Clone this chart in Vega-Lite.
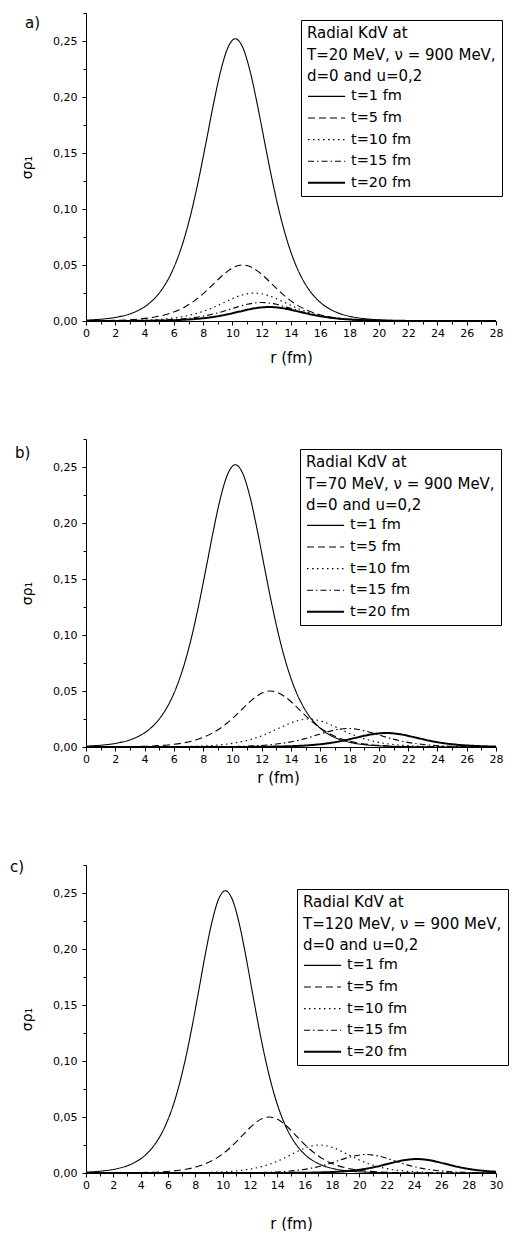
{
  "$schema": "https://vega.github.io/schema/vega-lite/v6.json",
  "padding": {"left": 10, "top": 7, "right": 0, "bottom": 0},
  "background": "white",
  "config": {
    "view": {"stroke": null},
    "font": "DejaVu Sans",
    "title": {"font": "DejaVu Sans", "fontSize": 15, "fontWeight": "normal", "color": "black", "anchor": "start", "frame": "group", "baseline": "middle", "offset": 4},
    "axis": {
      "grid": false, "domainColor": "black", "domainWidth": 1, "tickColor": "black", "tickWidth": 1,
      "labelColor": "black", "labelFont": "DejaVu Sans", "labelFontSize": 11, "labelOverlap": false, "labelFlush": false,
      "titleColor": "black", "titleFont": "DejaVu Sans", "titleFontWeight": "normal"
    },
    "axisX": {"labelPadding": 2, "titleFontSize": 15},
    "axisY": {"labelPadding": 5, "titleFontSize": 14, "titlePadding": 18},
    "legend": {
      "orient": "none", "titleFont": "DejaVu Sans", "titleFontSize": 15, "titleFontWeight": "normal", "titleColor": "black",
      "titleLineHeight": 21.7, "titlePadding": 4, "labelFont": "DejaVu Sans", "labelFontSize": 14.5, "labelColor": "black",
      "symbolType": "M-1,0H4.3", "symbolSize": 196, "symbolStrokeColor": "black", "labelOffset": 28, "rowPadding": 6.6,
      "padding": 6, "strokeColor": "black", "fillColor": "white", "labelLimit": 0, "titleLimit": 0
    }
  },
  "data": {"values": [
    {"p":"a","s":1,"r":0,"v":0.00078},{"p":"a","s":1,"r":1.2,"v":0.00181},{"p":"a","s":1,"r":2.2,"v":0.00365},{"p":"a","s":1,"r":3.2,"v":0.00731},{"p":"a","s":1,"r":4.2,"v":0.01452},{"p":"a","s":1,"r":4.7,"v":0.0204},{"p":"a","s":1,"r":5.2,"v":0.0285},{"p":"a","s":1,"r":5.7,"v":0.0394},{"p":"a","s":1,"r":6.2,"v":0.0541},{"p":"a","s":1,"r":6.7,"v":0.0733},{"p":"a","s":1,"r":7.2,"v":0.0976},{"p":"a","s":1,"r":7.7,"v":0.1268},{"p":"a","s":1,"r":8.2,"v":0.1596},{"p":"a","s":1,"r":8.7,"v":0.1933},{"p":"a","s":1,"r":9.2,"v":0.2233},{"p":"a","s":1,"r":9.7,"v":0.2444},{"p":"a","s":1,"r":10.2,"v":0.252},{"p":"a","s":1,"r":10.7,"v":0.2444},{"p":"a","s":1,"r":11.2,"v":0.2233},{"p":"a","s":1,"r":11.7,"v":0.1933},{"p":"a","s":1,"r":12.2,"v":0.1596},{"p":"a","s":1,"r":12.7,"v":0.1268},{"p":"a","s":1,"r":13.2,"v":0.0976},{"p":"a","s":1,"r":13.7,"v":0.0733},{"p":"a","s":1,"r":14.2,"v":0.0541},{"p":"a","s":1,"r":14.7,"v":0.0394},{"p":"a","s":1,"r":15.2,"v":0.0285},{"p":"a","s":1,"r":15.7,"v":0.0204},{"p":"a","s":1,"r":16.2,"v":0.01452},{"p":"a","s":1,"r":17.2,"v":0.00731},{"p":"a","s":1,"r":18.2,"v":0.00365},{"p":"a","s":1,"r":19.2,"v":0.00181},{"p":"a","s":1,"r":20.2,"v":0.0009},{"p":"a","s":1,"r":22.2,"v":0.00022},{"p":"a","s":1,"r":24.2,"v":0.00005},{"p":"a","s":1,"r":28,"v":0},
    {"p":"b","s":1,"r":0,"v":0.00078},{"p":"b","s":1,"r":1.2,"v":0.00181},{"p":"b","s":1,"r":2.2,"v":0.00365},{"p":"b","s":1,"r":3.2,"v":0.00731},{"p":"b","s":1,"r":4.2,"v":0.01452},{"p":"b","s":1,"r":4.7,"v":0.0204},{"p":"b","s":1,"r":5.2,"v":0.0285},{"p":"b","s":1,"r":5.7,"v":0.0394},{"p":"b","s":1,"r":6.2,"v":0.0541},{"p":"b","s":1,"r":6.7,"v":0.0733},{"p":"b","s":1,"r":7.2,"v":0.0976},{"p":"b","s":1,"r":7.7,"v":0.1268},{"p":"b","s":1,"r":8.2,"v":0.1596},{"p":"b","s":1,"r":8.7,"v":0.1933},{"p":"b","s":1,"r":9.2,"v":0.2233},{"p":"b","s":1,"r":9.7,"v":0.2444},{"p":"b","s":1,"r":10.2,"v":0.252},{"p":"b","s":1,"r":10.7,"v":0.2444},{"p":"b","s":1,"r":11.2,"v":0.2233},{"p":"b","s":1,"r":11.7,"v":0.1933},{"p":"b","s":1,"r":12.2,"v":0.1596},{"p":"b","s":1,"r":12.7,"v":0.1268},{"p":"b","s":1,"r":13.2,"v":0.0976},{"p":"b","s":1,"r":13.7,"v":0.0733},{"p":"b","s":1,"r":14.2,"v":0.0541},{"p":"b","s":1,"r":14.7,"v":0.0394},{"p":"b","s":1,"r":15.2,"v":0.0285},{"p":"b","s":1,"r":15.7,"v":0.0204},{"p":"b","s":1,"r":16.2,"v":0.01452},{"p":"b","s":1,"r":17.2,"v":0.00731},{"p":"b","s":1,"r":18.2,"v":0.00365},{"p":"b","s":1,"r":19.2,"v":0.00181},{"p":"b","s":1,"r":20.2,"v":0.0009},{"p":"b","s":1,"r":22.2,"v":0.00022},{"p":"b","s":1,"r":24.2,"v":0.00005},{"p":"b","s":1,"r":28,"v":0},
    {"p":"c","s":1,"r":0,"v":0.00078},{"p":"c","s":1,"r":1.2,"v":0.00181},{"p":"c","s":1,"r":2.2,"v":0.00365},{"p":"c","s":1,"r":3.2,"v":0.00731},{"p":"c","s":1,"r":4.2,"v":0.01452},{"p":"c","s":1,"r":4.7,"v":0.0204},{"p":"c","s":1,"r":5.2,"v":0.0285},{"p":"c","s":1,"r":5.7,"v":0.0394},{"p":"c","s":1,"r":6.2,"v":0.0541},{"p":"c","s":1,"r":6.7,"v":0.0733},{"p":"c","s":1,"r":7.2,"v":0.0976},{"p":"c","s":1,"r":7.7,"v":0.1268},{"p":"c","s":1,"r":8.2,"v":0.1596},{"p":"c","s":1,"r":8.7,"v":0.1933},{"p":"c","s":1,"r":9.2,"v":0.2233},{"p":"c","s":1,"r":9.7,"v":0.2444},{"p":"c","s":1,"r":10.2,"v":0.252},{"p":"c","s":1,"r":10.7,"v":0.2444},{"p":"c","s":1,"r":11.2,"v":0.2233},{"p":"c","s":1,"r":11.7,"v":0.1933},{"p":"c","s":1,"r":12.2,"v":0.1596},{"p":"c","s":1,"r":12.7,"v":0.1268},{"p":"c","s":1,"r":13.2,"v":0.0976},{"p":"c","s":1,"r":13.7,"v":0.0733},{"p":"c","s":1,"r":14.2,"v":0.0541},{"p":"c","s":1,"r":14.7,"v":0.0394},{"p":"c","s":1,"r":15.2,"v":0.0285},{"p":"c","s":1,"r":15.7,"v":0.0204},{"p":"c","s":1,"r":16.2,"v":0.01452},{"p":"c","s":1,"r":17.2,"v":0.00731},{"p":"c","s":1,"r":18.2,"v":0.00365},{"p":"c","s":1,"r":19.2,"v":0.00181},{"p":"c","s":1,"r":20.2,"v":0.0009},{"p":"c","s":1,"r":22.2,"v":0.00022},{"p":"c","s":1,"r":24.2,"v":0.00005},{"p":"c","s":1,"r":30,"v":0},
    {"p":"a","s":5,"r":0,"v":0.00016},{"p":"a","s":5,"r":0.7,"v":0.00025},{"p":"a","s":5,"r":2.7,"v":0.00096},{"p":"a","s":5,"r":3.7,"v":0.00185},{"p":"a","s":5,"r":4.7,"v":0.00354},{"p":"a","s":5,"r":5.7,"v":0.00665},{"p":"a","s":5,"r":6.7,"v":0.01215},{"p":"a","s":5,"r":7.7,"v":0.021},{"p":"a","s":5,"r":8.2,"v":0.0267},{"p":"a","s":5,"r":8.7,"v":0.033},{"p":"a","s":5,"r":9.2,"v":0.0393},{"p":"a","s":5,"r":9.7,"v":0.0448},{"p":"a","s":5,"r":10.2,"v":0.0486},{"p":"a","s":5,"r":10.7,"v":0.05},{"p":"a","s":5,"r":11.2,"v":0.0486},{"p":"a","s":5,"r":11.7,"v":0.0448},{"p":"a","s":5,"r":12.2,"v":0.0393},{"p":"a","s":5,"r":12.7,"v":0.033},{"p":"a","s":5,"r":13.2,"v":0.0267},{"p":"a","s":5,"r":13.7,"v":0.021},{"p":"a","s":5,"r":14.7,"v":0.01215},{"p":"a","s":5,"r":15.7,"v":0.00665},{"p":"a","s":5,"r":16.7,"v":0.00354},{"p":"a","s":5,"r":17.7,"v":0.00185},{"p":"a","s":5,"r":18.7,"v":0.00096},{"p":"a","s":5,"r":20.7,"v":0.00025},{"p":"a","s":5,"r":22.7,"v":0.00007},{"p":"a","s":5,"r":28,"v":0},
    {"p":"b","s":5,"r":0,"v":0.00004},{"p":"b","s":5,"r":0.6,"v":0.00007},{"p":"b","s":5,"r":2.6,"v":0.00025},{"p":"b","s":5,"r":4.6,"v":0.00096},{"p":"b","s":5,"r":5.6,"v":0.00185},{"p":"b","s":5,"r":6.6,"v":0.00354},{"p":"b","s":5,"r":7.6,"v":0.00665},{"p":"b","s":5,"r":8.6,"v":0.01215},{"p":"b","s":5,"r":9.6,"v":0.021},{"p":"b","s":5,"r":10.1,"v":0.0267},{"p":"b","s":5,"r":10.6,"v":0.033},{"p":"b","s":5,"r":11.1,"v":0.0393},{"p":"b","s":5,"r":11.6,"v":0.0448},{"p":"b","s":5,"r":12.1,"v":0.0486},{"p":"b","s":5,"r":12.6,"v":0.05},{"p":"b","s":5,"r":13.1,"v":0.0486},{"p":"b","s":5,"r":13.6,"v":0.0448},{"p":"b","s":5,"r":14.1,"v":0.0393},{"p":"b","s":5,"r":14.6,"v":0.033},{"p":"b","s":5,"r":15.1,"v":0.0267},{"p":"b","s":5,"r":15.6,"v":0.021},{"p":"b","s":5,"r":16.6,"v":0.01215},{"p":"b","s":5,"r":17.6,"v":0.00665},{"p":"b","s":5,"r":18.6,"v":0.00354},{"p":"b","s":5,"r":19.6,"v":0.00185},{"p":"b","s":5,"r":20.6,"v":0.00096},{"p":"b","s":5,"r":22.6,"v":0.00025},{"p":"b","s":5,"r":24.6,"v":0.00007},{"p":"b","s":5,"r":28,"v":0},
    {"p":"c","s":5,"r":0,"v":0.00003},{"p":"c","s":5,"r":1.4,"v":0.00007},{"p":"c","s":5,"r":3.4,"v":0.00025},{"p":"c","s":5,"r":5.4,"v":0.00096},{"p":"c","s":5,"r":6.4,"v":0.00185},{"p":"c","s":5,"r":7.4,"v":0.00354},{"p":"c","s":5,"r":8.4,"v":0.00665},{"p":"c","s":5,"r":9.4,"v":0.01215},{"p":"c","s":5,"r":10.4,"v":0.021},{"p":"c","s":5,"r":10.9,"v":0.0267},{"p":"c","s":5,"r":11.4,"v":0.033},{"p":"c","s":5,"r":11.9,"v":0.0393},{"p":"c","s":5,"r":12.4,"v":0.0448},{"p":"c","s":5,"r":12.9,"v":0.0486},{"p":"c","s":5,"r":13.4,"v":0.05},{"p":"c","s":5,"r":13.9,"v":0.0486},{"p":"c","s":5,"r":14.4,"v":0.0448},{"p":"c","s":5,"r":14.9,"v":0.0393},{"p":"c","s":5,"r":15.4,"v":0.033},{"p":"c","s":5,"r":15.9,"v":0.0267},{"p":"c","s":5,"r":16.4,"v":0.021},{"p":"c","s":5,"r":17.4,"v":0.01215},{"p":"c","s":5,"r":18.4,"v":0.00665},{"p":"c","s":5,"r":19.4,"v":0.00354},{"p":"c","s":5,"r":20.4,"v":0.00185},{"p":"c","s":5,"r":21.4,"v":0.00096},{"p":"c","s":5,"r":23.4,"v":0.00025},{"p":"c","s":5,"r":25.4,"v":0.00007},{"p":"c","s":5,"r":30,"v":0},
    {"p":"a","s":10,"r":0,"v":0.00006},{"p":"a","s":10,"r":1.5,"v":0.00016},{"p":"a","s":10,"r":3.5,"v":0.00057},{"p":"a","s":10,"r":4.5,"v":0.00107},{"p":"a","s":10,"r":5.5,"v":0.002},{"p":"a","s":10,"r":6.5,"v":0.00368},{"p":"a","s":10,"r":7.5,"v":0.00655},{"p":"a","s":10,"r":8.5,"v":0.01102},{"p":"a","s":10,"r":9.5,"v":0.01692},{"p":"a","s":10,"r":10.5,"v":0.02257},{"p":"a","s":10,"r":11.5,"v":0.025},{"p":"a","s":10,"r":12.5,"v":0.02257},{"p":"a","s":10,"r":13.5,"v":0.01692},{"p":"a","s":10,"r":14.5,"v":0.01102},{"p":"a","s":10,"r":15.5,"v":0.00655},{"p":"a","s":10,"r":16.5,"v":0.00368},{"p":"a","s":10,"r":17.5,"v":0.002},{"p":"a","s":10,"r":18.5,"v":0.00107},{"p":"a","s":10,"r":19.5,"v":0.00057},{"p":"a","s":10,"r":21.5,"v":0.00016},{"p":"a","s":10,"r":23.5,"v":0.00004},{"p":"a","s":10,"r":28,"v":0},
    {"p":"b","s":10,"r":0,"v":0},{"p":"b","s":10,"r":3.2,"v":0.00004},{"p":"b","s":10,"r":5.2,"v":0.00016},{"p":"b","s":10,"r":7.2,"v":0.00057},{"p":"b","s":10,"r":8.2,"v":0.00107},{"p":"b","s":10,"r":9.2,"v":0.002},{"p":"b","s":10,"r":10.2,"v":0.00368},{"p":"b","s":10,"r":11.2,"v":0.00655},{"p":"b","s":10,"r":12.2,"v":0.01102},{"p":"b","s":10,"r":13.2,"v":0.01692},{"p":"b","s":10,"r":14.2,"v":0.02257},{"p":"b","s":10,"r":15.2,"v":0.025},{"p":"b","s":10,"r":16.2,"v":0.02257},{"p":"b","s":10,"r":17.2,"v":0.01692},{"p":"b","s":10,"r":18.2,"v":0.01102},{"p":"b","s":10,"r":19.2,"v":0.00655},{"p":"b","s":10,"r":20.2,"v":0.00368},{"p":"b","s":10,"r":21.2,"v":0.002},{"p":"b","s":10,"r":22.2,"v":0.00107},{"p":"b","s":10,"r":23.2,"v":0.00057},{"p":"b","s":10,"r":25.2,"v":0.00016},{"p":"b","s":10,"r":27.2,"v":0.00004},{"p":"b","s":10,"r":28,"v":0.00002},
    {"p":"c","s":10,"r":0,"v":0},{"p":"c","s":10,"r":5.1,"v":0.00004},{"p":"c","s":10,"r":7.1,"v":0.00016},{"p":"c","s":10,"r":9.1,"v":0.00057},{"p":"c","s":10,"r":10.1,"v":0.00107},{"p":"c","s":10,"r":11.1,"v":0.002},{"p":"c","s":10,"r":12.1,"v":0.00368},{"p":"c","s":10,"r":13.1,"v":0.00655},{"p":"c","s":10,"r":14.1,"v":0.01102},{"p":"c","s":10,"r":15.1,"v":0.01692},{"p":"c","s":10,"r":16.1,"v":0.02257},{"p":"c","s":10,"r":17.1,"v":0.025},{"p":"c","s":10,"r":18.1,"v":0.02257},{"p":"c","s":10,"r":19.1,"v":0.01692},{"p":"c","s":10,"r":20.1,"v":0.01102},{"p":"c","s":10,"r":21.1,"v":0.00655},{"p":"c","s":10,"r":22.1,"v":0.00368},{"p":"c","s":10,"r":23.1,"v":0.002},{"p":"c","s":10,"r":24.1,"v":0.00107},{"p":"c","s":10,"r":25.1,"v":0.00057},{"p":"c","s":10,"r":27.1,"v":0.00016},{"p":"c","s":10,"r":29.1,"v":0.00004},{"p":"c","s":10,"r":30,"v":0.00002},
    {"p":"a","s":15,"r":0,"v":0.00003},{"p":"a","s":15,"r":2,"v":0.0001},{"p":"a","s":15,"r":4,"v":0.00037},{"p":"a","s":15,"r":5,"v":0.00071},{"p":"a","s":15,"r":6,"v":0.00132},{"p":"a","s":15,"r":7,"v":0.00243},{"p":"a","s":15,"r":8,"v":0.00432},{"p":"a","s":15,"r":9,"v":0.00727},{"p":"a","s":15,"r":10,"v":0.01117},{"p":"a","s":15,"r":11,"v":0.0149},{"p":"a","s":15,"r":12,"v":0.0165},{"p":"a","s":15,"r":13,"v":0.0149},{"p":"a","s":15,"r":14,"v":0.01117},{"p":"a","s":15,"r":15,"v":0.00727},{"p":"a","s":15,"r":16,"v":0.00432},{"p":"a","s":15,"r":17,"v":0.00243},{"p":"a","s":15,"r":18,"v":0.00132},{"p":"a","s":15,"r":19,"v":0.00071},{"p":"a","s":15,"r":20,"v":0.00037},{"p":"a","s":15,"r":22,"v":0.0001},{"p":"a","s":15,"r":24,"v":0.00003},{"p":"a","s":15,"r":28,"v":0},
    {"p":"b","s":15,"r":0,"v":0},{"p":"b","s":15,"r":5.9,"v":0.00003},{"p":"b","s":15,"r":7.9,"v":0.0001},{"p":"b","s":15,"r":9.9,"v":0.00037},{"p":"b","s":15,"r":10.9,"v":0.00071},{"p":"b","s":15,"r":11.9,"v":0.00132},{"p":"b","s":15,"r":12.9,"v":0.00243},{"p":"b","s":15,"r":13.9,"v":0.00432},{"p":"b","s":15,"r":14.9,"v":0.00727},{"p":"b","s":15,"r":15.9,"v":0.01117},{"p":"b","s":15,"r":16.9,"v":0.0149},{"p":"b","s":15,"r":17.9,"v":0.0165},{"p":"b","s":15,"r":18.9,"v":0.0149},{"p":"b","s":15,"r":19.9,"v":0.01117},{"p":"b","s":15,"r":20.9,"v":0.00727},{"p":"b","s":15,"r":21.9,"v":0.00432},{"p":"b","s":15,"r":22.9,"v":0.00243},{"p":"b","s":15,"r":23.9,"v":0.00132},{"p":"b","s":15,"r":24.9,"v":0.00071},{"p":"b","s":15,"r":25.9,"v":0.00037},{"p":"b","s":15,"r":28,"v":0.0001},
    {"p":"c","s":15,"r":0,"v":0},{"p":"c","s":15,"r":8.5,"v":0.00003},{"p":"c","s":15,"r":10.5,"v":0.0001},{"p":"c","s":15,"r":12.5,"v":0.00037},{"p":"c","s":15,"r":13.5,"v":0.00071},{"p":"c","s":15,"r":14.5,"v":0.00132},{"p":"c","s":15,"r":15.5,"v":0.00243},{"p":"c","s":15,"r":16.5,"v":0.00432},{"p":"c","s":15,"r":17.5,"v":0.00727},{"p":"c","s":15,"r":18.5,"v":0.01117},{"p":"c","s":15,"r":19.5,"v":0.0149},{"p":"c","s":15,"r":20.5,"v":0.0165},{"p":"c","s":15,"r":21.5,"v":0.0149},{"p":"c","s":15,"r":22.5,"v":0.01117},{"p":"c","s":15,"r":23.5,"v":0.00727},{"p":"c","s":15,"r":24.5,"v":0.00432},{"p":"c","s":15,"r":25.5,"v":0.00243},{"p":"c","s":15,"r":26.5,"v":0.00132},{"p":"c","s":15,"r":27.5,"v":0.00071},{"p":"c","s":15,"r":28.5,"v":0.00037},{"p":"c","s":15,"r":30,"v":0.00012},
    {"p":"a","s":20,"r":0,"v":0.00001},{"p":"a","s":20,"r":2.5,"v":0.00008},{"p":"a","s":20,"r":4.5,"v":0.00028},{"p":"a","s":20,"r":5.5,"v":0.00054},{"p":"a","s":20,"r":6.5,"v":0.001},{"p":"a","s":20,"r":7.5,"v":0.00184},{"p":"a","s":20,"r":8.5,"v":0.00327},{"p":"a","s":20,"r":9.5,"v":0.00551},{"p":"a","s":20,"r":10.5,"v":0.00846},{"p":"a","s":20,"r":11.5,"v":0.01129},{"p":"a","s":20,"r":12.5,"v":0.0125},{"p":"a","s":20,"r":13.5,"v":0.01129},{"p":"a","s":20,"r":14.5,"v":0.00846},{"p":"a","s":20,"r":15.5,"v":0.00551},{"p":"a","s":20,"r":16.5,"v":0.00327},{"p":"a","s":20,"r":17.5,"v":0.00184},{"p":"a","s":20,"r":18.5,"v":0.001},{"p":"a","s":20,"r":19.5,"v":0.00054},{"p":"a","s":20,"r":20.5,"v":0.00028},{"p":"a","s":20,"r":22.5,"v":0.00008},{"p":"a","s":20,"r":28,"v":0},
    {"p":"b","s":20,"r":0,"v":0},{"p":"b","s":20,"r":10.5,"v":0.00008},{"p":"b","s":20,"r":12.5,"v":0.00028},{"p":"b","s":20,"r":13.5,"v":0.00054},{"p":"b","s":20,"r":14.5,"v":0.001},{"p":"b","s":20,"r":15.5,"v":0.00184},{"p":"b","s":20,"r":16.5,"v":0.00327},{"p":"b","s":20,"r":17.5,"v":0.00551},{"p":"b","s":20,"r":18.5,"v":0.00846},{"p":"b","s":20,"r":19.5,"v":0.01129},{"p":"b","s":20,"r":20.5,"v":0.0125},{"p":"b","s":20,"r":21.5,"v":0.01129},{"p":"b","s":20,"r":22.5,"v":0.00846},{"p":"b","s":20,"r":23.5,"v":0.00551},{"p":"b","s":20,"r":24.5,"v":0.00327},{"p":"b","s":20,"r":25.5,"v":0.00184},{"p":"b","s":20,"r":26.5,"v":0.001},{"p":"b","s":20,"r":27.5,"v":0.00054},{"p":"b","s":20,"r":28,"v":0.0004},
    {"p":"c","s":20,"r":0,"v":0},{"p":"c","s":20,"r":14.2,"v":0.00008},{"p":"c","s":20,"r":16.2,"v":0.00028},{"p":"c","s":20,"r":17.2,"v":0.00054},{"p":"c","s":20,"r":18.2,"v":0.001},{"p":"c","s":20,"r":19.2,"v":0.00184},{"p":"c","s":20,"r":20.2,"v":0.00327},{"p":"c","s":20,"r":21.2,"v":0.00551},{"p":"c","s":20,"r":22.2,"v":0.00846},{"p":"c","s":20,"r":23.2,"v":0.01129},{"p":"c","s":20,"r":24.2,"v":0.0125},{"p":"c","s":20,"r":25.2,"v":0.01129},{"p":"c","s":20,"r":26.2,"v":0.00846},{"p":"c","s":20,"r":27.2,"v":0.00551},{"p":"c","s":20,"r":28.2,"v":0.00327},{"p":"c","s":20,"r":29.2,"v":0.00184},{"p":"c","s":20,"r":30,"v":0.0011}
  ]},
  "bounds": "flush",
  "spacing": 118,
  "resolve": {
    "scale": {"x": "independent", "strokeDash": "independent", "strokeWidth": "independent"},
    "legend": {"strokeDash": "independent", "strokeWidth": "independent"}
  },
  "vconcat": [
    {
      "width": 410, "height": 308,
      "title": {"text": "a)", "dx": -61, "dy": 28},
      "transform": [{"filter": "datum.p == 'a'"}],
      "mark": {"type": "line", "interpolate": "monotone", "color": "black"},
      "encoding": {
        "x": {"field": "r", "type": "quantitative", "scale": {"domain": [0, 28], "nice": false, "zero": false},
          "axis": {"title": "r (fm)", "titlePadding": 12, "values": [0,1,2,3,4,5,6,7,8,9,10,11,12,13,14,15,16,17,18,19,20,21,22,23,24,25,26,27,28],
            "labelExpr": "datum.value % 2 == 0 ? datum.label : ''",
            "tickSize": {"condition": {"test": "datum.value % 2 == 0", "value": 4}, "value": 3}}},
        "y": {"field": "v", "type": "quantitative", "scale": {"domain": [0, 0.275], "nice": false},
          "axis": {"title": "σρ₁", "values": [0,0.025,0.05,0.075,0.1,0.125,0.15,0.175,0.2,0.225,0.25,0.275],
            "labelExpr": "round(datum.value*1000) % 50 == 0 ? replace(format(datum.value, '.2f'), '.', ',') : ''",
            "tickSize": {"condition": {"test": "round(datum.value*1000) % 50 == 0", "value": 4}, "value": 3}}},
        "strokeDash": {"field": "s", "type": "ordinal", "scale": {"domain": [1,5,10,15,20], "range": [[1,0],[7,4],[1.5,3.5],[6,3,1.5,3],[1,0]]},
          "legend": {"title": ["Radial KdV at", "T=20 MeV, ν = 900 MeV,", "d=0 and u=0,2"], "legendX": 215, "legendY": 7, "labelExpr": "'t=' + datum.label + ' fm'"}},
        "strokeWidth": {"field": "s", "type": "ordinal", "scale": {"type": "ordinal", "domain": [1,5,10,15,20], "range": [1.1,1.1,1.1,1.1,2]},
          "legend": {"title": ["Radial KdV at", "T=20 MeV, ν = 900 MeV,", "d=0 and u=0,2"], "legendX": 215, "legendY": 7, "labelExpr": "'t=' + datum.label + ' fm'"}}
      }
    },
    {
      "width": 410, "height": 308,
      "title": {"text": "b)", "dx": -71, "dy": 32},
      "transform": [{"filter": "datum.p == 'b'"}],
      "mark": {"type": "line", "interpolate": "monotone", "color": "black"},
      "encoding": {
        "x": {"field": "r", "type": "quantitative", "scale": {"domain": [0, 28], "nice": false, "zero": false},
          "axis": {"title": "r (fm)", "titlePadding": 6, "titleX": 192, "values": [0,1,2,3,4,5,6,7,8,9,10,11,12,13,14,15,16,17,18,19,20,21,22,23,24,25,26,27,28],
            "labelExpr": "datum.value % 2 == 0 ? datum.label : ''",
            "tickSize": {"condition": {"test": "datum.value % 2 == 0", "value": 4}, "value": 3}}},
        "y": {"field": "v", "type": "quantitative", "scale": {"domain": [0, 0.275], "nice": false},
          "axis": {"title": "σρ₁", "values": [0,0.025,0.05,0.075,0.1,0.125,0.15,0.175,0.2,0.225,0.25,0.275],
            "labelExpr": "round(datum.value*1000) % 50 == 0 ? replace(format(datum.value, '.2f'), '.', ',') : ''",
            "tickSize": {"condition": {"test": "round(datum.value*1000) % 50 == 0", "value": 4}, "value": 3}}},
        "strokeDash": {"field": "s", "type": "ordinal", "scale": {"domain": [1,5,10,15,20], "range": [[1,0],[7,4],[1.5,3.5],[6,3,1.5,3],[1,0]]},
          "legend": {"title": ["Radial KdV at", "T=70 MeV, ν = 900 MeV,", "d=0 and u=0,2"], "legendX": 214, "legendY": 10, "labelExpr": "'t=' + datum.label + ' fm'"}},
        "strokeWidth": {"field": "s", "type": "ordinal", "scale": {"type": "ordinal", "domain": [1,5,10,15,20], "range": [1.1,1.1,1.1,1.1,2]},
          "legend": {"title": ["Radial KdV at", "T=70 MeV, ν = 900 MeV,", "d=0 and u=0,2"], "legendX": 214, "legendY": 10, "labelExpr": "'t=' + datum.label + ' fm'"}}
      }
    },
    {
      "width": 410, "height": 308,
      "title": {"text": "c)", "dx": -76, "dy": 20},
      "transform": [{"filter": "datum.p == 'c'"}],
      "mark": {"type": "line", "interpolate": "monotone", "color": "black"},
      "encoding": {
        "x": {"field": "r", "type": "quantitative", "scale": {"domain": [0, 30], "nice": false, "zero": false},
          "axis": {"title": "r (fm)", "titlePadding": 26, "values": [0,1,2,3,4,5,6,7,8,9,10,11,12,13,14,15,16,17,18,19,20,21,22,23,24,25,26,27,28,29,30],
            "labelExpr": "datum.value % 2 == 0 ? datum.label : ''",
            "tickSize": {"condition": {"test": "datum.value % 2 == 0", "value": 4}, "value": 3}}},
        "y": {"field": "v", "type": "quantitative", "scale": {"domain": [0, 0.275], "nice": false},
          "axis": {"title": "σρ₁", "values": [0,0.025,0.05,0.075,0.1,0.125,0.15,0.175,0.2,0.225,0.25,0.275],
            "labelExpr": "round(datum.value*1000) % 50 == 0 ? replace(format(datum.value, '.2f'), '.', ',') : ''",
            "tickSize": {"condition": {"test": "round(datum.value*1000) % 50 == 0", "value": 4}, "value": 3}}},
        "strokeDash": {"field": "s", "type": "ordinal", "scale": {"domain": [1,5,10,15,20], "range": [[1,0],[7,4],[1.5,3.5],[6,3,1.5,3],[1,0]]},
          "legend": {"title": ["Radial KdV at", "T=120 MeV, ν = 900 MeV,", "d=0 and u=0,2"], "legendX": 211, "legendY": 24, "labelExpr": "'t=' + datum.label + ' fm'"}},
        "strokeWidth": {"field": "s", "type": "ordinal", "scale": {"type": "ordinal", "domain": [1,5,10,15,20], "range": [1.1,1.1,1.1,1.1,2]},
          "legend": {"title": ["Radial KdV at", "T=120 MeV, ν = 900 MeV,", "d=0 and u=0,2"], "legendX": 211, "legendY": 24, "labelExpr": "'t=' + datum.label + ' fm'"}}
      }
    }
  ]
}
